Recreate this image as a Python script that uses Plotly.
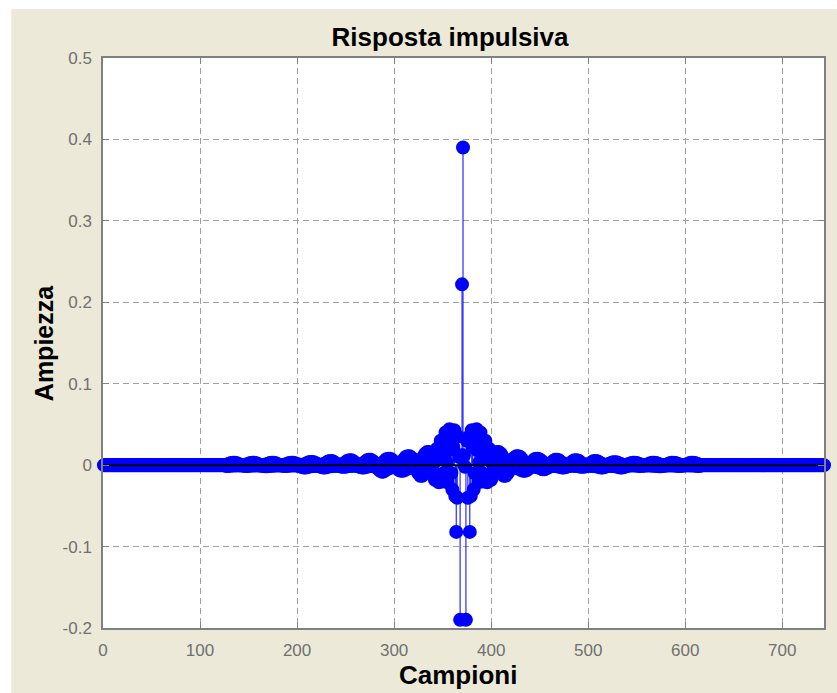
import plotly.graph_objects as go

# ---------------- data ----------------
zeros_head = [
    0, 0, 0, 0, 0, 0, 0, 0, 0, 0, 0, 0, 0, 0, 0, 0, 0, 0, 0, 0, 0, 0, 0, 0, 0,
    0, 0, 0, 0, 0, 0, 0, 0, 0, 0, 0, 0, 0, 0, 0, 0, 0, 0, 0, 0, 0, 0, 0, 0, 0,
    0, 0, 0, 0, 0, 0, 0, 0, 0, 0, 0, 0, 0, 0, 0, 0, 0, 0, 0, 0, 0, 0, 0, 0, 0,
    0, 0, 0, 0, 0, 0, 0, 0, 0, 0, 0, 0, 0, 0, 0, 0, 0, 0, 0, 0, 0, 0, 0, 0, 0,
    0, 0, 0, 0, 0, 0, 0, 0, 0, 0, 0, 0, 0, 0, 0, 0, 0, 0, 0, 0, 0, 0, 0, 0, 0,
]

tail_left = [
    0.0003, -0.001, 0.0009, -0.001, 0.0018, -0.0008, 0.0027, -0.0005, 0.003, -0.0005,
    0.003, -0.0003, 0.0024, -0.0003, 0.0012,
    -0.0003, 0.0006, -0.0005, 0.0, -0.0008, 0.0003, -0.001, 0.0009, -0.001, 0.0018,
    -0.0008, 0.0027, -0.0005, 0.003, -0.0005, 0.003, -0.0003, 0.0024, -0.0003, 0.0012,
    -0.0005, 0.0006, -0.0008, 0.0, -0.0012, 0.0003, -0.0015, 0.0009, -0.0015, 0.0018,
    -0.0012, 0.0027, -0.0008, 0.003, -0.0008, 0.003, -0.0005, 0.0024, -0.0005, 0.0012,
    -0.0003, 0.0006, -0.0005, 0.0, -0.0008, 0.0003, -0.001, 0.0009, -0.001, 0.0018,
    -0.0008, 0.0027, -0.0005, 0.003, -0.0005, 0.003, -0.0003, 0.0024, -0.0003, 0.0012,
    -0.0009, 0.0008, -0.0015, 0.0, -0.0024, 0.0004, -0.003, 0.0012, -0.003, 0.0024,
    -0.0024, 0.0036, -0.0015, 0.004, -0.0015, 0.004, -0.0009, 0.0032, -0.0009, 0.0016,
    -0.0009, 0.001, -0.0015, 0.0, -0.0024, 0.0005, -0.003, 0.0015, -0.003, 0.003,
    -0.0024, 0.0045, -0.0015, 0.005, -0.0015, 0.005, -0.0009, 0.004, -0.0009, 0.002,
    -0.0006, 0.0012, -0.001, 0.0, -0.0016, 0.0006, -0.002, 0.0018, -0.002, 0.0036,
    -0.0016, 0.0054, -0.001, 0.006, -0.001, 0.006, -0.0006, 0.0048, -0.0006, 0.0024,
    -0.0009, 0.0013, -0.0015, 0.0, -0.0024, 0.0007, -0.003, 0.002, -0.003, 0.0039,
    -0.0024, 0.0059, -0.0015, 0.0065, -0.0015, 0.0065, -0.0009, 0.0052, -0.0009, 0.0026,
    -0.0024, 0.0016, -0.004, 0.0, -0.0064, 0.0008, -0.008, 0.0024, -0.008, 0.0048,
    -0.0064, 0.0072, -0.004, 0.008, -0.004, 0.008, -0.0024, 0.0064, -0.0024, 0.0032,
    -0.002, 0.002, -0.004, 0.0, -0.006, 0.001, -0.007, 0.003, -0.007, 0.007,
    -0.006, 0.010, -0.003, 0.011, -0.004, 0.011, -0.002, 0.009, -0.002, 0.004,
    -0.004, 0.003, -0.006, 0.0, -0.010, 0.002, -0.013, 0.005, -0.013, 0.010,
    -0.010, 0.014, -0.007, 0.016, -0.006, 0.016, -0.004, 0.013, -0.004, 0.006,
]

center_lobe = [
    0.012, -0.018, 0.005, 0.020, -0.012, -0.021, 0.008, 0.030, 0.015, -0.020,
    -0.010, 0.025, 0.040, 0.004, -0.021, 0.018, 0.044, 0.030, -0.010, -0.030,
    0.022, 0.043, -0.038, -0.082, -0.040, 0.035, 0.010, -0.190, 0.012, 0.222,
    0.390,
    0.012, -0.002, -0.190, 0.030, -0.040, 0.035, -0.082, -0.038, 0.043, 0.022,
    -0.030, -0.010, 0.030, 0.044, 0.018, -0.021, 0.004, 0.040, 0.025, -0.010,
    -0.020, 0.015, 0.030, 0.008, -0.021, -0.012, 0.020, 0.005, -0.018, 0.012,
]

tail_right = [
    0.006, -0.004, 0.013, -0.004, 0.016, -0.006, 0.016, -0.007, 0.014, -0.010,
    0.010, -0.013, 0.005, -0.013, 0.002, -0.010, 0.0, -0.006, 0.003, -0.004,
    0.004, -0.002, 0.009, -0.002, 0.011, -0.004, 0.011, -0.003, 0.010, -0.006,
    0.007, -0.007, 0.003, -0.007, 0.001, -0.006, 0.0, -0.004, 0.002, -0.002,
    0.003, -0.0015, 0.0065, -0.0015, 0.008, -0.0025, 0.008, -0.0025, 0.007, -0.004,
    0.005, -0.005, 0.0025, -0.005, 0.001, -0.004, 0.0, -0.0025, 0.0015, -0.0015,
    0.0026, -0.0009, 0.0052, -0.0009, 0.0065, -0.0015, 0.0065, -0.0015, 0.0059, -0.0024,
    0.0039, -0.003, 0.002, -0.003, 0.0007, -0.0024, 0.0, -0.0015, 0.0013, -0.0009,
    0.0024, -0.0006, 0.0048, -0.0006, 0.006, -0.001, 0.006, -0.001, 0.0054, -0.0016,
    0.0036, -0.002, 0.0018, -0.002, 0.0006, -0.0016, 0.0, -0.001, 0.0012, -0.0006,
    0.002, -0.0009, 0.004, -0.0009, 0.005, -0.0015, 0.005, -0.0015, 0.0045, -0.0024,
    0.003, -0.003, 0.0015, -0.003, 0.0005, -0.0024, 0.0, -0.0015, 0.001, -0.0009,
    0.0014, -0.0009, 0.0028, -0.0009, 0.0035, -0.0015, 0.0035, -0.0015, 0.0032, -0.0024,
    0.0021, -0.003, 0.0011, -0.003, 0.0004, -0.0024, 0.0, -0.0015, 0.0007, -0.0009,
    0.0012, -0.0003, 0.0024, -0.0003, 0.003, -0.0005, 0.003, -0.0005, 0.0027, -0.0008,
    0.0018, -0.001, 0.0009, -0.001, 0.0003, -0.0008, 0.0, -0.0005, 0.0006, -0.0003,
    0.0012, -0.0005, 0.0024, -0.0005, 0.003, -0.0008, 0.003, -0.0008, 0.0027, -0.0012,
    0.0018, -0.0015, 0.0009, -0.0015, 0.0003, -0.0012, 0.0, -0.0008, 0.0006, -0.0005,
    0.0012, -0.0003, 0.0024, -0.0003, 0.003, -0.0005, 0.003, -0.0005, 0.0027, -0.0008,
    0.0018, -0.001, 0.0009, -0.001, 0.0003, -0.0008, 0.0, -0.0005, 0.0006, -0.0003,
    0.0012, -0.0003, 0.0024, -0.0003, 0.003, -0.0005, 0.003, -0.0005, 0.0027, -0.0008,
    0.0018, -0.001, 0.0009, -0.001, 0.0003,
]

zeros_tail = [
    0, 0, 0, 0, 0, 0, 0, 0, 0, 0, 0, 0, 0, 0, 0, 0, 0, 0, 0, 0, 0, 0, 0, 0, 0,
    0, 0, 0, 0, 0, 0, 0, 0, 0, 0, 0, 0, 0, 0, 0, 0, 0, 0, 0, 0, 0, 0, 0, 0, 0,
    0, 0, 0, 0, 0, 0, 0, 0, 0, 0, 0, 0, 0, 0, 0, 0, 0, 0, 0, 0, 0, 0, 0, 0, 0,
    0, 0, 0, 0, 0, 0, 0, 0, 0, 0, 0, 0, 0, 0, 0, 0, 0, 0, 0, 0, 0, 0, 0, 0, 0,
    0, 0, 0, 0, 0, 0, 0, 0, 0, 0, 0, 0, 0, 0, 0, 0, 0, 0, 0, 0, 0, 0, 0, 0, 0,
    0, 0,
]

x_tick_vals = [0, 100, 200, 300, 400, 500, 600, 700]
x_tick_text = ["0", "100", "200", "300", "400", "500", "600", "700"]
y_tick_vals = [-0.2, -0.1, 0, 0.1, 0.2, 0.3, 0.4, 0.5]
y_tick_text = ["-0.2", "-0.1", "0", "0.1", "0.2", "0.3", "0.4", "0.5"]

title_text = "Risposta impulsiva"
x_title = "Campioni"
y_title = "Ampiezza"

# ---------------- build ----------------
amplitude = zeros_head + tail_left + center_lobe + tail_right + zeros_tail
samples = list(range(1, len(amplitude) + 1))
n_samples = len(amplitude)

stem_x, stem_y = [], []
for s, a in zip(samples, amplitude):
    stem_x += [s, s, None]
    stem_y += [0, a, None]

BLUE = "#0000FF"
BEIGE = "#ECE9D8"
AXIS = "#808080"
GRID = "#A0A0A0"
FONT = "Liberation Sans, Arial, sans-serif"

fig = go.Figure()
fig.add_trace(go.Scatter(x=stem_x, y=stem_y, mode="lines",
                         line=dict(color=BLUE, width=1), hoverinfo="skip",
                         showlegend=False))
fig.add_trace(go.Scatter(x=samples, y=amplitude, mode="markers",
                         marker=dict(color=BLUE, size=12, line=dict(color=BLUE, width=2)),
                         cliponaxis=False, showlegend=False))
fig.add_trace(go.Scatter(x=[0, n_samples], y=[0, 0], mode="lines",
                         line=dict(color="black", width=2), hoverinfo="skip",
                         showlegend=False))

axis_common = dict(
    showline=True, linecolor=AXIS, linewidth=1.5, mirror="ticks",
    ticks="inside", ticklen=6, tickcolor=AXIS, tickwidth=1,
    showgrid=True, gridcolor=GRID, gridwidth=1, griddash="6px,4px",
    zeroline=False,
    tickfont=dict(family=FONT, size=17, color="#707070"),
)

fig.update_xaxes(range=[0, n_samples], tickvals=x_tick_vals, ticktext=x_tick_text,
                 ticklabelstandoff=6, **axis_common)
fig.update_yaxes(range=[-0.2, 0.5], tickvals=y_tick_vals, ticktext=y_tick_text,
                 ticklabelstandoff=6, **axis_common)

fig.update_layout(
    width=837, height=693,
    margin=dict(l=103, r=11, t=58, b=65, pad=0),
    paper_bgcolor=BEIGE, plot_bgcolor="white",
    title=dict(text="<b>" + title_text + "</b>", x=(451 - 103) / 723, xref="paper",
               y=1 - 37 / 693, yref="container", yanchor="middle", xanchor="center",
               font=dict(family=FONT, size=26, color="black")),
    annotations=[
        dict(text="<b>" + x_title + "</b>", x=(459 - 103) / 723, xref="paper",
             y=0, yref="paper",
             xanchor="center", yanchor="top", yshift=-30, showarrow=False,
             font=dict(family=FONT, size=26, color="black")),
        dict(text="<b>" + y_title + "</b>", x=(44 - 103) / 723, xref="paper",
             y=0.5, yref="paper", xanchor="center", yanchor="middle",
             textangle=-90, showarrow=False,
             font=dict(family=FONT, size=25, color="black")),
    ],
    shapes=[
        dict(type="rect", xref="paper", yref="paper", x0=-0.3, x1=1.2,
             y0=(628 - 9) / 570, y1=1.3, fillcolor="white", line=dict(width=0),
             layer="above"),
        dict(type="rect", xref="paper", yref="paper", x0=-0.3, x1=(11 - 103) / 723,
             y0=-0.3, y1=1.3, fillcolor="white", line=dict(width=0),
             layer="above"),
    ],
)

fig.write_html("out.html")
